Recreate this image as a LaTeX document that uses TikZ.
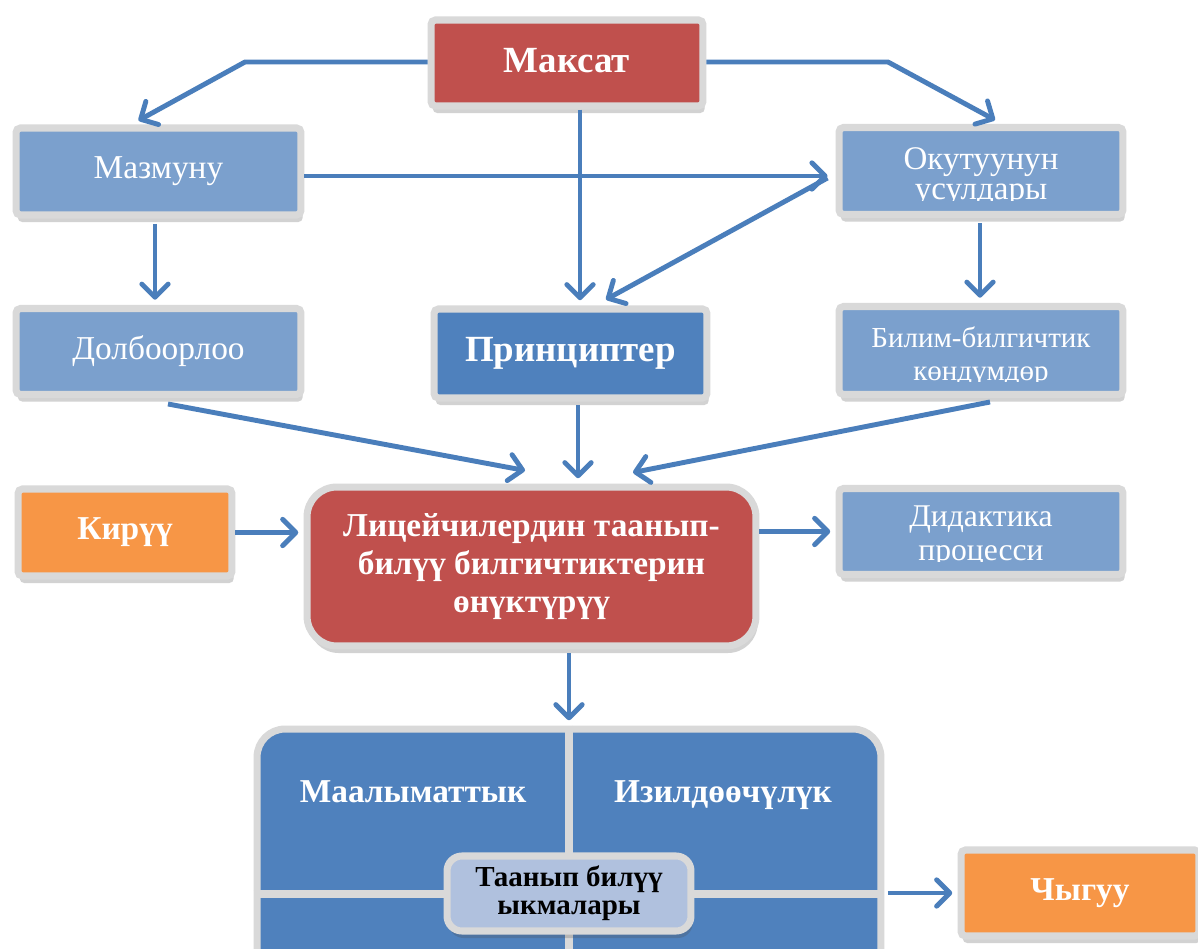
\documentclass[tikz,border=0pt]{standalone}
\usepackage{fontspec}
\setmainfont{Liberation Serif}
\usetikzlibrary{arrows.meta,calc,shadows}
\definecolor{boxred}{HTML}{C0504D}
\definecolor{boxblue}{HTML}{4F81BD}
\definecolor{lightblue}{HTML}{7BA0CD}
\definecolor{boxorange}{HTML}{F79646}
\definecolor{framegray}{HTML}{D9D9D9}
\definecolor{paleblue}{HTML}{B0C1DE}
\definecolor{arrowblue}{HTML}{4A7EBB}
\tikzset{
  box/.style={draw=framegray, line width=4pt, text=white, align=center, inner sep=0pt, rounded corners=2.5pt,
    drop shadow={shadow xshift=1pt, shadow yshift=-4pt, opacity=.25, fill=black!70}},
  headbox/.style={box, font=\fontsize{19}{21}\selectfont\bfseries},
  plainbox/.style={box, fill=lightblue, minimum width=5.68cm, minimum height=1.74cm},
  plaintext/.style={text=white, inner sep=0pt, anchor=base},
  arr/.style={draw=arrowblue, line width=2.8pt, line join=round,
    -{Straight Barb[length=7.5pt,width=15pt,round]}},
}
\begin{document}
\begin{tikzpicture}[x=0.02cm,y=-0.02cm]
\fill[white] (0,0) rectangle (1198,949);
\useasboundingbox (0,0) rectangle (1198,949);
% top row
\node[headbox, fill=boxred, minimum width=5.44cm, minimum height=1.72cm,
  font=\fontsize{21}{23}\selectfont\bfseries] (maksat) at (567,63) {\raisebox{3pt}{Максат}};
\node[plainbox, minimum width=5.7cm, font=\fontsize{19}{21}\selectfont] (mazmunu) at (158.5,171.5) {Мазмуну};
\node[plainbox] (okutuu) at (981,171) {};
% second row
\node[plainbox, minimum width=5.7cm, minimum height=1.72cm, font=\fontsize{19}{21}\selectfont] (dolboor) at (158.5,351.5) {Долбоорлоо};
\node[headbox, fill=boxblue, minimum width=5.46cm, minimum height=1.78cm,
  font=\fontsize{21}{23}\selectfont\bfseries] (printsip) at (570.5,353.5) {Принциптер};
\node[plainbox, minimum height=1.76cm] (bilim) at (981,350.5) {};
% middle row
\node[headbox, fill=boxorange, minimum width=4.28cm, minimum height=1.74cm] (kiruu) at (125,532.5) {Кирүү};
\node[headbox, fill=boxred, rounded corners=17pt, minimum width=8.98cm, minimum height=3.18cm,
  font=\fontsize{19}{21.5}\selectfont\bfseries] (center) at (531.5,566.5)
  {Лицейчилердин таанып-\\билүү билгичтиктерин\\өнүктүрүү};
\node[plainbox, minimum height=1.72cm] (didakt) at (981,531.5) {};
% texts cut off at the bottom of their boxes
\begin{scope}[font=\fontsize{18.8}{20}\selectfont]
\clip (okutuu.north west) rectangle (okutuu.east |- 0,201);
\node[plaintext] (okutuu-a) at (981,170) {Окутуунун};
\node[plaintext] (okutuu-b) at (981,200) {усулдары};
\end{scope}
\begin{scope}[font=\fontsize{16.5}{18}\selectfont]
\clip (bilim.north west) rectangle (bilim.east |- 0,382);
\node[plaintext] (bilim-a) at (981,348) {Билим-билгичтик};
\node[plaintext] (bilim-b) at (981,381) {көндүмдөр};
\end{scope}
\begin{scope}[font=\fontsize{18}{20}\selectfont]
\clip (didakt.north west) rectangle (didakt.east |- 0,562);
\node[plaintext] (didakt-a) at (981,527) {Дидактика};
\node[plaintext] (didakt-b) at (981,561) {процесси};
\end{scope}
% bottom panel
\node[box, fill=boxblue, rounded corners=16pt, minimum width=12.48cm, minimum height=6.56cm] (panel) at (569,893) {};
\draw[framegray, line width=4pt] (panel.north -| 569,0) -- (panel.south -| 569,0);
\draw[framegray, line width=4pt] (panel.west |- 0,894) -- (panel.east |- 0,894);
\node[plaintext, font=\fontsize{19}{21}\selectfont\bfseries] (quad-a) at (413,803) {Маалыматтык};
\node[plaintext, font=\fontsize{19}{21}\selectfont\bfseries] (quad-b) at (723,803) {Изилдөөчүлүк};
\node[box, fill=paleblue, text=black, rounded corners=8.5pt, minimum width=4.88cm, minimum height=1.5cm,
  font=\fontsize{16.5}{16}\selectfont\bfseries] (taanyp) at (569,893.5) {Таанып билүү\\ыкмалары};
\node[headbox, fill=boxorange, minimum width=4.76cm, minimum height=1.72cm] (chyguu) at (1080,893) {Чыгуу};
% connectors
\coordinate (lbend) at (245,62);
\coordinate (rbend) at (888,62);
\draw[arr] (maksat.west |- 0,62) -- (lbend) -- ($(mazmunu.north)+(-20,-4)$);
\draw[arr] (maksat.east |- 0,62) -- (rbend) -- ($(okutuu.north)+(14,-4)$);
\draw[arr, shorten >=3pt] (maksat.south -| 580,0) -- (printsip.north -| 580,0);
\draw[arr] (mazmunu.east |- 0,176) -- ($(okutuu.west |- 0,176)+(-8,0)$);
\draw[arr] ($(okutuu.west |- 0,178)+(-8,0)$) -- ($(printsip.north -| 606,0)+(0,-6)$);
\draw[arr, shorten <=3pt, shorten >=3pt] (mazmunu.south -| 155,0) -- (dolboor.north -| 155,0);
\draw[arr, shorten <=3pt, shorten >=3pt] (okutuu.south -| 980,0) -- (bilim.north -| 980,0);
\draw[arr] ($(dolboor.south -| 168,0)+(0,6)$) -- ($(center.north -| 525,0)+(0,-13)$);
\draw[arr, shorten <=2pt, shorten >=3pt] (printsip.south -| 578,0) -- (center.north -| 578,0);
\draw[arr] ($(bilim.south -| 990,0)+(0,4)$) -- ($(center.north -| 633,0)+(0,-11)$);
\draw[arr, shorten >=3pt] (kiruu.east) -- (center.west |- kiruu);
\draw[arr, shorten >=3pt] (center.east |- didakt) -- (didakt.west);
\draw[arr, shorten <=2pt, shorten >=3pt] (center.south -| panel) -- (panel.north);
\draw[arr, shorten <=2pt, shorten >=3pt] (panel.east |- chyguu) -- (chyguu.west);
\end{tikzpicture}
\end{document}
